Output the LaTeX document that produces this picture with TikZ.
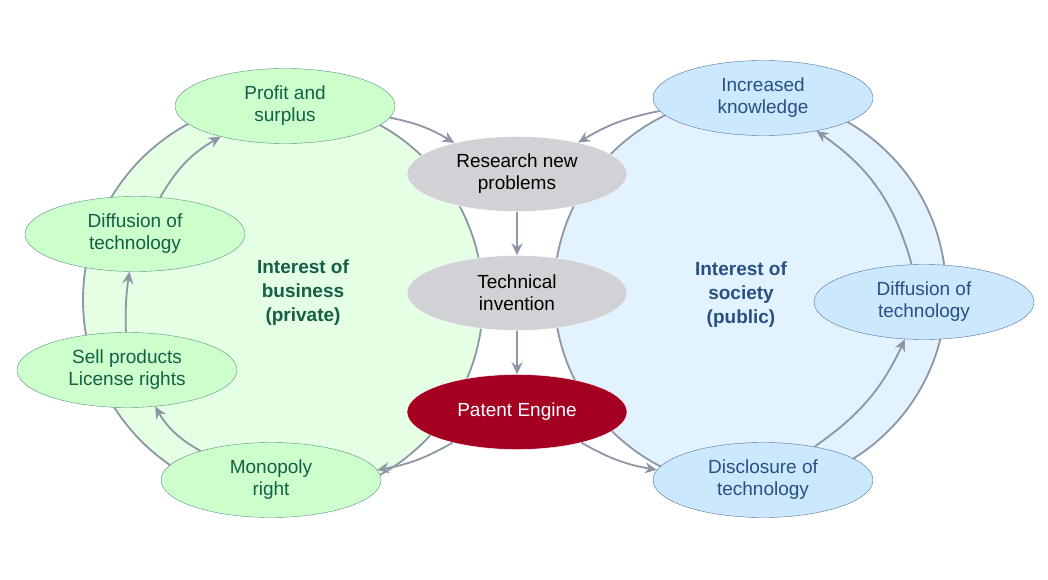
\documentclass[tikz,border=0pt]{standalone}
\usepackage{fontspec}
\setmainfont{Liberation Sans}
\usetikzlibrary{arrows.meta}
\definecolor{linegray}{RGB}{140,150,165}
\definecolor{greenfill}{RGB}{204,255,204}
\definecolor{greenbg}{RGB}{228,255,228}
\definecolor{greentext}{RGB}{20,95,70}
\definecolor{bluefill}{RGB}{204,232,255}
\definecolor{bluebg}{RGB}{226,242,255}
\definecolor{bluetext}{RGB}{40,80,130}
\definecolor{grayfill}{RGB}{208,210,214}
\definecolor{patentred}{RGB}{165,0,33}
\begin{document}
\begin{tikzpicture}[x=1pt,y=1pt,
    every node/.style={font=\fontsize{19}{22}\selectfont, align=center},
    oval/.style={ellipse, draw, minimum width=220pt, minimum height=75pt, inner sep=0pt},
    private/.style={oval, fill=greenfill, draw=greentext!70, text=greentext},
    public/.style={oval, fill=bluefill, draw=bluetext!80, text=bluetext},
    core/.style={oval, fill=grayfill, draw=white, text=black},
    arr/.style={draw=linegray, line width=1.8pt, -{Stealth[length=12pt,width=11pt]}}]
\usetikzlibrary{shapes.geometric}
\useasboundingbox (0,0) rectangle (1048,-580);
% background circles
\fill[greenbg] (283,-300) circle (200);
\fill[bluebg] (750,-292) circle (196);
\draw[linegray, line width=1.8pt] (283,-300) circle (200);
\draw[linegray, line width=1.8pt] (750,-292) circle (196);
% ovals
\node[private] (profit) at (285,-106) {Profit and\\surplus};
\node[private] (diffl) at (135,-234) {Diffusion of\\technology};
\node[private] (sell) at (127,-370) {Sell products\\License rights};
\node[private] (mono) at (271,-480) {Monopoly\\right};
\node[core] (research) at (517,-174) {Research new\\problems};
\node[core] (invent) at (517,-293) {Technical\\invention};
\node[core, fill=patentred, text=white] (patent) at (517,-412) {Patent Engine};
\node[public] (know) at (763,-98) {Increased\\knowledge};
\node[public] (diffr) at (924,-302) {Diffusion of\\technology};
\node[public] (disc) at (763,-480) {Disclosure of\\technology};
\node[text=greentext, font=\fontsize{19}{24}\selectfont\bfseries] (business) at (303,-293) {Interest of\\business\\(private)};
\node[text=bluetext, font=\fontsize{19}{24}\selectfont\bfseries] (society) at (741,-295) {Interest of\\society\\(public)};
% connectors
\draw[arr] (mono) to[bend left=15] (sell);
\draw[arr] (sell) to[bend left=5] (diffl);
\draw[arr] (diffl) to[bend left=15] (profit);
\draw[arr] (profit) to[bend left=10] (research);
\draw[arr] (patent) to[bend left=10] (mono);
\draw[arr] (know) to[bend right=10] (research);
\draw[arr] (patent) to[bend right=10] (disc);
\draw[arr] (disc) to[bend right=15] (diffr);
\draw[arr] (diffr) to[bend right=20] (know);
\draw[arr] (research) -- (invent);
\draw[arr] (invent) -- (patent);
\end{tikzpicture}
\end{document}
